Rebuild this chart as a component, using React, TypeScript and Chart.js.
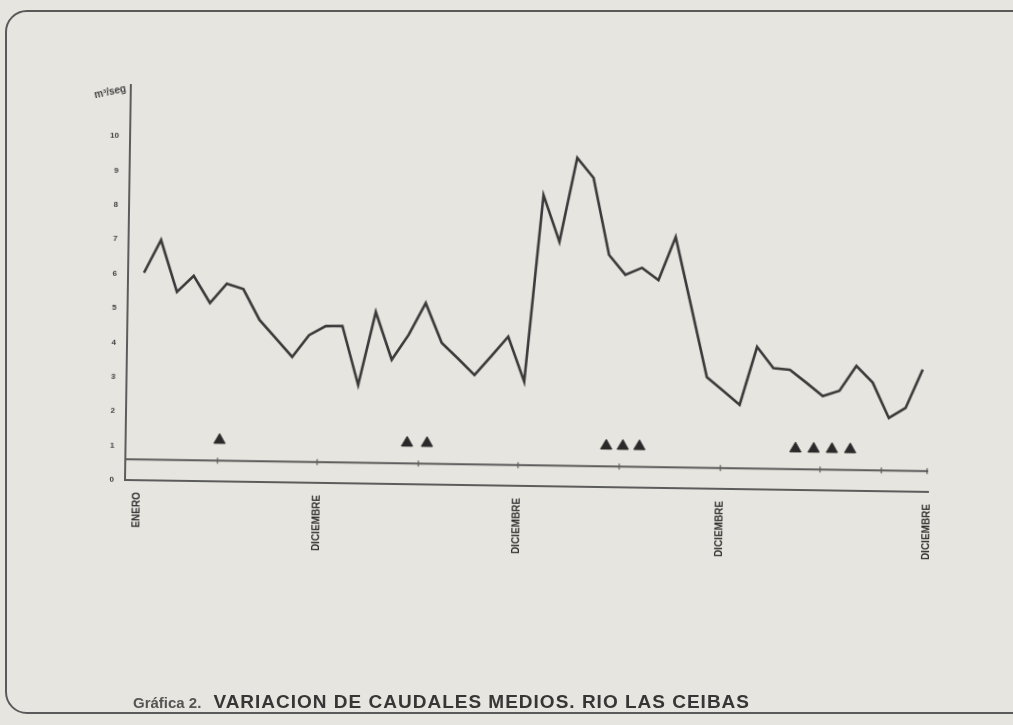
import React, { useEffect, useRef } from "react";
import { Chart, registerables } from "chart.js";

Chart.register(...registerables);

// Months (index along the time axis, 4 years)
const meses: number[] = [
  0, 1, 2, 3, 4, 5, 6, 7, 8, 9, 10, 11,
  12, 13, 14, 15, 16, 17, 18, 19, 20, 21, 22, 23,
  24, 25, 26, 27, 28, 29, 30, 31, 32, 33, 34, 35,
  36, 37, 38, 39, 40, 41, 42, 43, 44, 45, 46, 47,
];

// Mean monthly discharge (m3/seg)
const caudales: number[] = [
  6.03, 6.99, 5.49, 5.96, 5.18, 5.75, 5.6, 4.71, 4.18, 3.65, 4.29, 4.56,
  4.57, 2.86, 4.99, 3.61, 4.34, 5.27, 4.12, 3.67, 3.2, 3.76, 4.33, 3.03,
  8.46, 7.11, 9.56, 8.98, 6.75, 6.18, 6.39, 6.04, 7.3, 5.28, 3.24, 2.85,
  2.45, 4.14, 3.53, 3.49, 3.12, 2.74, 2.9, 3.63, 3.15, 2.13, 2.43, 3.55,
];

// Event markers (triangles) along the time axis
const eventos: number[] = [4.7, 16.0, 17.2, 28.0, 29.0, 30.0, 39.4, 40.5, 41.6, 42.7];
const eventoNivel = 1.2;

// Small marks on the reference strip
const marcasFranja: number[] = [4.6, 10.6, 16.7, 22.7, 28.8, 34.9, 40.9, 44.6, 47.35];
const franjaNivel = 0.6;

// Axis extents and ticks
const xMin = -0.96;
const xMax = 47.42;
const xTickPos: number[] = [-0.24, 10.6, 22.7, 34.9, 47.35];
const xTickLabels: string[] = ["ENERO", "DICIEMBRE", "DICIEMBRE", "DICIEMBRE", "DICIEMBRE"];
const yMax = 11.48;
const yTicks: number[] = [0, 1, 2, 3, 4, 5, 6, 7, 8, 9, 10];

const INK = "#3a3a3a";
const AXIS = "#5c5c5c";

export default function App() {
  const ref = useRef<HTMLCanvasElement | null>(null);

  useEffect(() => {
    if (!ref.current) return;
    const chart = new Chart(ref.current, {
      type: "line",
      data: {
        datasets: [
          {
            label: "Caudal medio",
            data: caudales.map((v, i) => ({ x: meses[i], y: v })),
            borderColor: INK,
            borderWidth: 2.6,
            pointRadius: 0,
            tension: 0,
            fill: false,
          },
          {
            label: "franja",
            data: [
              { x: xMin, y: franjaNivel },
              { x: xMax, y: franjaNivel },
            ],
            borderColor: AXIS,
            borderWidth: 2,
            pointRadius: 0,
            fill: false,
          },
          {
            label: "marcas",
            type: "scatter",
            data: marcasFranja.map((m) => ({ x: m, y: franjaNivel })),
            pointStyle: "line",
            rotation: 90,
            pointRadius: 3,
            borderColor: "#777",
            borderWidth: 1.5,
            showLine: false,
          },
          {
            label: "eventos",
            type: "scatter",
            data: eventos.map((m) => ({ x: m, y: eventoNivel })),
            pointStyle: "triangle",
            pointRadius: 6.5,
            backgroundColor: "#2a2a2a",
            borderColor: "#2a2a2a",
            borderWidth: 1,
            showLine: false,
          },
        ],
      } as any,
      options: {
        responsive: false,
        animation: false,
        events: [],
        layout: { padding: { left: 0, top: 85, right: 1013 - 928, bottom: 0 } },
        plugins: { legend: { display: false }, tooltip: { enabled: false } },
        scales: {
          x: {
            type: "linear",
            min: xMin,
            max: xMax,
            grid: { display: false, drawTicks: false },
            border: { display: true, color: AXIS, width: 2 },
            ticks: {
              autoSkip: false,
              minRotation: 90,
              maxRotation: 90,
              padding: 12,
              color: "#2e2e2e",
              font: { family: "Liberation Sans", size: 10, weight: "bold" },
              callback: (_v: any, i: number) => xTickLabels[i],
            },
            afterBuildTicks: (s: any) => {
              s.ticks = xTickPos.map((v) => ({ value: v }));
            },
            afterFit: (s: any) => {
              s.height = 245;
            },
          },
          y: {
            min: 0,
            max: yMax,
            grid: { display: false, drawTicks: false },
            border: { display: true, color: AXIS, width: 2 },
            ticks: {
              padding: 11,
              color: "#3e3e3e",
              font: { family: "Liberation Sans", size: 8, weight: "bold" },
              callback: (v: any) => String(v),
            },
            afterBuildTicks: (s: any) => {
              s.ticks = yTicks.map((v) => ({ value: v }));
            },
            afterFit: (s: any) => {
              s.width = 125;
            },
          },
        },
      } as any,
    });
    return () => chart.destroy();
  }, []);

  return (
    <div
      style={{
        position: "fixed",
        left: 0,
        top: 0,
        width: 1013,
        height: 725,
        overflow: "hidden",
        background: "#e7e5df",
      }}
    >
      <div
        style={{
          position: "absolute",
          left: 5,
          top: 10,
          width: 1100,
          height: 704,
          border: "2px solid #5a5a5a",
          borderRadius: 22,
          boxSizing: "border-box",
        }}
      />
      <canvas
        ref={ref}
        width={1013}
        height={725}
        style={{
          position: "absolute",
          left: 0,
          top: 0,
          width: 1013,
          height: 725,
          transform: "rotate(0.85deg)",
          transformOrigin: "125px 480px",
        }}
      />
      <div
        style={{
          position: "absolute",
          left: 94,
          top: 86,
          fontFamily: "'Liberation Sans', sans-serif",
          fontWeight: "bold",
          fontSize: 10,
          color: "#444",
          transform: "rotate(-12deg)",
          whiteSpace: "nowrap",
        }}
      >
        m³/seg
      </div>
      <div
        style={{
          position: "absolute",
          left: 133,
          top: 691,
          fontFamily: "'Liberation Sans', Arial, sans-serif",
          fontWeight: "bold",
          fontSize: 19,
          color: "#363636",
          whiteSpace: "nowrap",
        }}
      >
        <span style={{ color: "#555", fontSize: 15 }}>Gráfica 2.</span>
        <span style={{ marginLeft: 12, letterSpacing: 1 }}>
          VARIACION DE CAUDALES MEDIOS. RIO LAS CEIBAS
        </span>
      </div>
    </div>
  );
}
